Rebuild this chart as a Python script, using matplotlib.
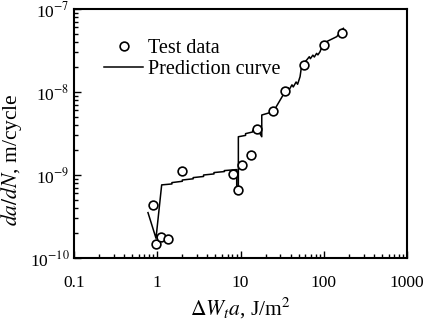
import matplotlib
matplotlib.use("Agg")
import matplotlib.pyplot as plt
from matplotlib.ticker import LogLocator, FixedLocator, NullFormatter

plt.rcParams['font.family'] = ['Liberation Serif', 'DejaVu Serif']
plt.rcParams['mathtext.fontset'] = 'stix'

# Test data
test_x = [0.88, 0.96, 1.12, 1.36, 1.98, 8.13, 9.25, 10.5, 13.5, 15.9, 24.8, 34.3, 58.5, 100.7, 164]
test_y = [4.3e-10, 1.49e-10, 1.81e-10, 1.68e-10, 1.12e-9, 1.03e-9, 6.6e-10, 1.32e-9, 1.74e-9,
          3.63e-9, 5.85e-9, 1.03e-8, 2.1e-8, 3.68e-8, 5.19e-8]

# Prediction curve
pred_x = [0.774, 0.966, 1.13, 1.5, 1.5, 2.0, 2.0, 2.7, 2.7, 3.6, 3.6, 4.8, 4.8, 6.4, 6.4, 8.83,
          9.0, 9.0, 9.42, 9.42, 11.5, 11.5, 14.0, 14.0, 15.7, 18.0, 18.0, 24.8, 34.3,
          37.0, 38.5, 41.5, 43.0, 46.5, 48.5, 51.9, 54.3, 62.4,
          67.0, 69.0, 74.0, 77.0, 82.0, 85.0, 90.2, 98.8, 143, 172]
pred_y = [3.52e-10, 1.73e-10, 7.6e-10, 7.8e-10, 8.1e-10, 8.4e-10, 8.7e-10, 9.0e-10, 9.3e-10,
          9.6e-10, 1.0e-9, 1.03e-9, 1.07e-9, 1.1e-9, 1.13e-9, 1.16e-9,
          1.16e-9, 6.6e-10, 6.6e-10, 2.89e-9, 3.0e-9, 3.15e-9, 3.3e-9, 3.45e-9, 3.66e-9,
          2.89e-9, 5.28e-9, 5.8e-9, 1.01e-8,
          1.13e-8, 1.07e-8, 1.22e-8, 1.15e-8, 1.32e-8, 1.24e-8, 1.53e-8, 2.11e-8, 2.43e-8,
          2.66e-8, 2.52e-8, 2.78e-8, 2.64e-8, 2.92e-8, 2.8e-8, 3.06e-8, 3.87e-8, 4.64e-8, 5.85e-8]

fig = plt.figure(figsize=(4.24, 3.26), dpi=100)
ax = fig.add_axes([0.1745, 0.2086, 0.7855, 0.7638])

ax.plot(pred_x, pred_y, color='black', lw=1.1, label='Prediction curve')
ax.plot(test_x, test_y, linestyle='none', marker='o', ms=6.3, mfc='white', mec='black',
        mew=1.2, label='Test data')

ax.set_xscale('log')
ax.set_yscale('log')
ax.set_xlim(0.1, 1000)
ax.set_ylim(1e-10, 1e-7)

ax.xaxis.set_major_locator(FixedLocator([0.1, 1, 10, 100, 1000]))
ax.set_xticklabels(['0.1', '1', '10', '100', '1000'])
ax.xaxis.set_minor_locator(LogLocator(base=10, subs=range(2, 10), numticks=20))
ax.xaxis.set_minor_formatter(NullFormatter())
ax.yaxis.set_major_locator(FixedLocator([1e-10, 1e-9, 1e-8, 1e-7]))
ax.set_yticklabels(['10$^{-10}$', '10$^{-9}$', '10$^{-8}$', '10$^{-7}$'])
ax.yaxis.set_minor_locator(LogLocator(base=10, subs=range(2, 10), numticks=20))
ax.yaxis.set_minor_formatter(NullFormatter())

ax.tick_params(which='both', direction='in', top=False, right=False, labelsize=12.5)
ax.tick_params(axis='x', which='major', length=5, width=1.0, pad=12)
ax.tick_params(axis='x', which='minor', length=3, width=1.0)
ax.tick_params(axis='y', which='major', length=5, width=1.0, pad=3)
ax.tick_params(axis='y', which='minor', length=3, width=1.0)
for s in ax.spines.values():
    s.set_linewidth(1.5)

ax.set_xlabel(r'$\Delta W_t a$, J/m$^2$', fontsize=15.5, labelpad=4)
ax.set_ylabel(r'$da/dN$, m/cycle', fontsize=15.5)
ax.yaxis.set_label_coords(-0.15, 0.395)

h, l = ax.get_legend_handles_labels()
ax.legend([h[1], h[0]], [l[1], l[0]], loc='upper left', bbox_to_anchor=(0.09, 0.88),
          frameon=False, fontsize=14.5, handlelength=1.95, handletextpad=0.25,
          borderaxespad=0, borderpad=0, labelspacing=0.1)

fig.savefig('out.png', dpi=100)
